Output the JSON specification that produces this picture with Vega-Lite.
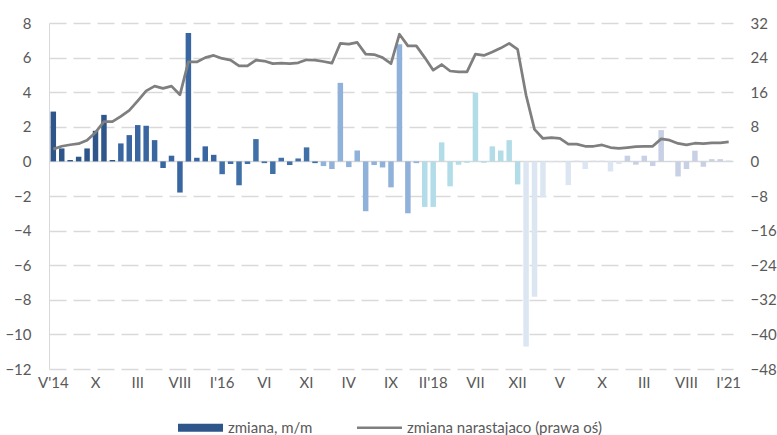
{
  "$schema": "https://vega.github.io/schema/vega-lite/v6.json",
  "width": 684,
  "height": 346,
  "autosize": "none",
  "padding": {"left": 49, "top": 23, "right": 44, "bottom": 66},
  "config": {
    "view": {"stroke": null},
    "font": "Lato",
    "axis": {"labelFont": "Lato", "labelFontSize": 15, "labelColor": "#595959", "title": null}
  },
  "datasets": {
    "miesiace": [
      {"miesiac": "2014-05", "rok": 2014, "zmiana": 2.88, "narastajaco": 2.85},
      {"miesiac": "2014-06", "rok": 2014, "zmiana": 0.75, "narastajaco": 3.5},
      {"miesiac": "2014-07", "rok": 2014, "zmiana": 0.08, "narastajaco": 3.85},
      {"miesiac": "2014-08", "rok": 2014, "zmiana": 0.27, "narastajaco": 4.1},
      {"miesiac": "2014-09", "rok": 2014, "zmiana": 0.75, "narastajaco": 4.9},
      {"miesiac": "2014-10", "rok": 2014, "zmiana": 1.77, "narastajaco": 6.7},
      {"miesiac": "2014-11", "rok": 2014, "zmiana": 2.69, "narastajaco": 9.2},
      {"miesiac": "2014-12", "rok": 2014, "zmiana": 0.08, "narastajaco": 9.2},
      {"miesiac": "2015-01", "rok": 2015, "zmiana": 1.04, "narastajaco": 10.4},
      {"miesiac": "2015-02", "rok": 2015, "zmiana": 1.52, "narastajaco": 11.8},
      {"miesiac": "2015-03", "rok": 2015, "zmiana": 2.1, "narastajaco": 14.0},
      {"miesiac": "2015-04", "rok": 2015, "zmiana": 2.06, "narastajaco": 16.3},
      {"miesiac": "2015-05", "rok": 2015, "zmiana": 1.23, "narastajaco": 17.4},
      {"miesiac": "2015-06", "rok": 2015, "zmiana": -0.38, "narastajaco": 16.9},
      {"miesiac": "2015-07", "rok": 2015, "zmiana": 0.33, "narastajaco": 17.4},
      {"miesiac": "2015-08", "rok": 2015, "zmiana": -1.8, "narastajaco": 15.4},
      {"miesiac": "2015-09", "rok": 2015, "zmiana": 7.42, "narastajaco": 23.0},
      {"miesiac": "2015-10", "rok": 2015, "zmiana": 0.21, "narastajaco": 23.0},
      {"miesiac": "2015-11", "rok": 2015, "zmiana": 0.87, "narastajaco": 24.0},
      {"miesiac": "2015-12", "rok": 2015, "zmiana": 0.38, "narastajaco": 24.5},
      {"miesiac": "2016-01", "rok": 2016, "zmiana": -0.74, "narastajaco": 23.8},
      {"miesiac": "2016-02", "rok": 2016, "zmiana": -0.15, "narastajaco": 23.4},
      {"miesiac": "2016-03", "rok": 2016, "zmiana": -1.38, "narastajaco": 22.1},
      {"miesiac": "2016-04", "rok": 2016, "zmiana": -0.15, "narastajaco": 22.1},
      {"miesiac": "2016-05", "rok": 2016, "zmiana": 1.29, "narastajaco": 23.4},
      {"miesiac": "2016-06", "rok": 2016, "zmiana": -0.1, "narastajaco": 23.2},
      {"miesiac": "2016-07", "rok": 2016, "zmiana": -0.73, "narastajaco": 22.6},
      {"miesiac": "2016-08", "rok": 2016, "zmiana": 0.21, "narastajaco": 22.7},
      {"miesiac": "2016-09", "rok": 2016, "zmiana": -0.21, "narastajaco": 22.6},
      {"miesiac": "2016-10", "rok": 2016, "zmiana": 0.17, "narastajaco": 22.8},
      {"miesiac": "2016-11", "rok": 2016, "zmiana": 0.81, "narastajaco": 23.5},
      {"miesiac": "2016-12", "rok": 2016, "zmiana": -0.1, "narastajaco": 23.4},
      {"miesiac": "2017-01", "rok": 2017, "zmiana": -0.27, "narastajaco": 23.1},
      {"miesiac": "2017-02", "rok": 2017, "zmiana": -0.44, "narastajaco": 22.7},
      {"miesiac": "2017-03", "rok": 2017, "zmiana": 4.54, "narastajaco": 27.3},
      {"miesiac": "2017-04", "rok": 2017, "zmiana": -0.33, "narastajaco": 27.1},
      {"miesiac": "2017-05", "rok": 2017, "zmiana": 0.63, "narastajaco": 27.5},
      {"miesiac": "2017-06", "rok": 2017, "zmiana": -2.88, "narastajaco": 24.8},
      {"miesiac": "2017-07", "rok": 2017, "zmiana": -0.21, "narastajaco": 24.7},
      {"miesiac": "2017-08", "rok": 2017, "zmiana": -0.35, "narastajaco": 24.0},
      {"miesiac": "2017-09", "rok": 2017, "zmiana": -1.5, "narastajaco": 22.6},
      {"miesiac": "2017-10", "rok": 2017, "zmiana": 6.77, "narastajaco": 29.4},
      {"miesiac": "2017-11", "rok": 2017, "zmiana": -3.0, "narastajaco": 26.7},
      {"miesiac": "2017-12", "rok": 2017, "zmiana": -0.1, "narastajaco": 26.7},
      {"miesiac": "2018-01", "rok": 2018, "zmiana": -2.63, "narastajaco": 24.0},
      {"miesiac": "2018-02", "rok": 2018, "zmiana": -2.63, "narastajaco": 21.1},
      {"miesiac": "2018-03", "rok": 2018, "zmiana": 1.1, "narastajaco": 22.4},
      {"miesiac": "2018-04", "rok": 2018, "zmiana": -1.44, "narastajaco": 20.9},
      {"miesiac": "2018-05", "rok": 2018, "zmiana": -0.19, "narastajaco": 20.7},
      {"miesiac": "2018-06", "rok": 2018, "zmiana": -0.08, "narastajaco": 20.7},
      {"miesiac": "2018-07", "rok": 2018, "zmiana": 3.98, "narastajaco": 24.8},
      {"miesiac": "2018-08", "rok": 2018, "zmiana": -0.08, "narastajaco": 24.5},
      {"miesiac": "2018-09", "rok": 2018, "zmiana": 0.87, "narastajaco": 25.3},
      {"miesiac": "2018-10", "rok": 2018, "zmiana": 0.63, "narastajaco": 26.2},
      {"miesiac": "2018-11", "rok": 2018, "zmiana": 1.23, "narastajaco": 27.3},
      {"miesiac": "2018-12", "rok": 2018, "zmiana": -1.33, "narastajaco": 25.9},
      {"miesiac": "2019-01", "rok": 2019, "zmiana": -10.7, "narastajaco": 15.3},
      {"miesiac": "2019-02", "rok": 2019, "zmiana": -7.82, "narastajaco": 7.4},
      {"miesiac": "2019-03", "rok": 2019, "zmiana": -2.08, "narastajaco": 5.3},
      {"miesiac": "2019-04", "rok": 2019, "zmiana": -0.05, "narastajaco": 5.5},
      {"miesiac": "2019-05", "rok": 2019, "zmiana": -0.05, "narastajaco": 5.3},
      {"miesiac": "2019-06", "rok": 2019, "zmiana": -1.37, "narastajaco": 4.0},
      {"miesiac": "2019-07", "rok": 2019, "zmiana": 0.05, "narastajaco": 4.0},
      {"miesiac": "2019-08", "rok": 2019, "zmiana": -0.44, "narastajaco": 3.5},
      {"miesiac": "2019-09", "rok": 2019, "zmiana": 0.05, "narastajaco": 3.5},
      {"miesiac": "2019-10", "rok": 2019, "zmiana": 0.05, "narastajaco": 3.8},
      {"miesiac": "2019-11", "rok": 2019, "zmiana": -0.58, "narastajaco": 3.2},
      {"miesiac": "2019-12", "rok": 2019, "zmiana": -0.15, "narastajaco": 3.0},
      {"miesiac": "2020-01", "rok": 2020, "zmiana": 0.33, "narastajaco": 3.2},
      {"miesiac": "2020-02", "rok": 2020, "zmiana": -0.19, "narastajaco": 3.4},
      {"miesiac": "2020-03", "rok": 2020, "zmiana": 0.33, "narastajaco": 3.5},
      {"miesiac": "2020-04", "rok": 2020, "zmiana": -0.27, "narastajaco": 3.5},
      {"miesiac": "2020-05", "rok": 2020, "zmiana": 1.81, "narastajaco": 5.2},
      {"miesiac": "2020-06", "rok": 2020, "zmiana": -0.03, "narastajaco": 4.9},
      {"miesiac": "2020-07", "rok": 2020, "zmiana": -0.87, "narastajaco": 4.15},
      {"miesiac": "2020-08", "rok": 2020, "zmiana": -0.44, "narastajaco": 3.8},
      {"miesiac": "2020-09", "rok": 2020, "zmiana": 0.62, "narastajaco": 4.2},
      {"miesiac": "2020-10", "rok": 2020, "zmiana": -0.31, "narastajaco": 4.1},
      {"miesiac": "2020-11", "rok": 2020, "zmiana": 0.13, "narastajaco": 4.3},
      {"miesiac": "2020-12", "rok": 2020, "zmiana": 0.13, "narastajaco": 4.3},
      {"miesiac": "2021-01", "rok": 2021, "zmiana": 0.05, "narastajaco": 4.5}
    ],
    "serie": [
      {"seria": "zmiana, m/m"},
      {"seria": "zmiana narastajaco (prawa oś)"}
    ]
  },
  "layer": [
    {
      "data": {"name": "miesiace"},
      "mark": {"type": "bar"},
      "encoding": {
        "x": {
          "field": "miesiac",
          "type": "nominal",
          "sort": null,
          "scale": {"paddingInner": 0.35, "paddingOuter": 0.185},
          "axis": {
            "orient": "bottom",
            "domain": false,
            "ticks": false,
            "grid": false,
            "labelAngle": 0,
            "labelPadding": 6,
            "labelExpr": "((toNumber(substring(datum.value,0,4))-2014)*12 + toNumber(substring(datum.value,5,7)) - 5) % 5 == 0 ? ['I','II','III','IV','V','VI','VII','VIII','IX','X','XI','XII'][toNumber(substring(datum.value,5,7))-1] + ((datum.value == '2014-05' || datum.value == '2016-01' || datum.value == '2018-02' || datum.value == '2021-01') ? \"'\" + substring(datum.value,2,4) : '') : ''"
          }
        },
        "y": {
          "field": "zmiana",
          "type": "quantitative",
          "scale": {"domain": [-12, 8], "nice": false, "zero": false},
          "axis": {
            "orient": "left",
            "values": [-12, -10, -8, -6, -4, -2, 0, 2, 4, 6, 8],
            "grid": true,
            "gridColor": "#D9D9D9",
            "gridWidth": 1.5,
            "gridDash": {"condition": {"test": "datum.value === 0", "value": []}, "value": [17, 7]},
            "ticks": false,
            "domain": true,
            "domainColor": "#D9D9D9",
            "domainWidth": 1,
            "labelPadding": 18
          }
        },
        "fill": {
          "field": "rok",
          "type": "ordinal",
          "scale": {
            "domain": [2014, 2015, 2016, 2017, 2018, 2019, 2020, 2021],
            "range": ["#2E568A", "#3966A0", "#4170A8", "#8FB1DA", "#B2DDE8", "#DCE6F2", "#C8D0E5", "#D0D8EA"]
          },
          "legend": null
        }
      }
    },
    {
      "data": {"name": "miesiace"},
      "mark": {"type": "line", "color": "#7F7F7F", "strokeWidth": 2.75, "strokeJoin": "round"},
      "encoding": {
        "x": {"field": "miesiac", "type": "nominal", "sort": null},
        "y": {
          "field": "narastajaco",
          "type": "quantitative",
          "scale": {"domain": [-48, 32], "nice": false, "zero": false},
          "axis": {
            "orient": "right",
            "values": [-48, -40, -32, -24, -16, -8, 0, 8, 16, 24, 32],
            "grid": false,
            "ticks": false,
            "domain": false,
            "labelPadding": 17
          }
        }
      }
    },
    {
      "data": {"name": "serie"},
      "mark": {"type": "point", "filled": true, "opacity": 0},
      "encoding": {
        "color": {
          "field": "seria",
          "type": "nominal",
          "sort": null,
          "scale": {
            "domain": ["zmiana, m/m", "zmiana narastajaco (prawa oś)"],
            "range": ["#2E568A", "#7F7F7F"]
          },
          "legend": {
            "title": null,
            "orient": "none",
            "direction": "horizontal",
            "legendX": 129,
            "legendY": 382,
            "padding": 0,
            "symbolSize": 2025,
            "symbolOpacity": 1,
            "symbolStrokeWidth": 0,
            "labelFont": "Lato",
            "labelFontSize": 15,
            "labelColor": "#595959",
            "labelOffset": 5,
            "labelLimit": 400,
            "columnPadding": 44,
            "encode": {
              "symbols": {"update": {"opacity": {"value": 1}, "fillOpacity": {"value": 1}}}
            }
          }
        },
        "shape": {
          "field": "seria",
          "type": "nominal",
          "sort": null,
          "scale": {
            "domain": ["zmiana, m/m", "zmiana narastajaco (prawa oś)"],
            "range": ["M-1,-0.18H1V0.18H-1Z", "M-1,-0.055H1V0.055H-1Z"]
          }
        }
      }
    }
  ],
  "resolve": {"scale": {"y": "independent"}}
}
